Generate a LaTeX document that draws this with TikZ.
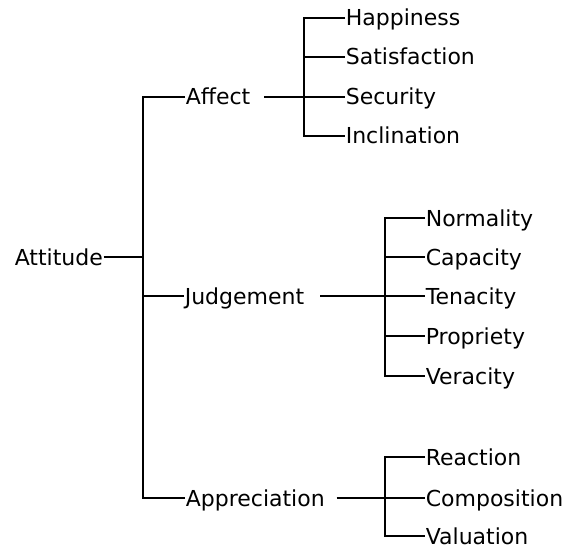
\documentclass[tikz,border=0pt]{standalone}
\usepackage{fontspec}
\setmainfont{DejaVu Sans}
\usepackage{tikz}
\usetikzlibrary{positioning}

\begin{document}
\begin{tikzpicture}[x=1pt, y=-1pt, line width=1.6pt,
lbl/.style={inner sep=0pt, anchor=west, text height=16pt, text depth=0pt, font=\fontsize{22}{26}\selectfont}]
\useasboundingbox (0,0) rectangle (564,548);

% root
\node [lbl] (att) at (14,257) {Attitude};
\coordinate (attj) at (143,257);

% second level
\node [lbl] (aff) at (185,97) {Affect};
\node [lbl] (jud) at (184,296) {Judgement};
\node [lbl] (app) at (185,498) {Appreciation};

\draw (att.east) -- (attj);
\draw (aff.west) -| (attj) |- (app.west);
\draw (attj |- jud.west) -- (jud.west);

% affect
\coordinate (affj) at (304,97);
\node [lbl] (hap) at (345,18) {Happiness};
\node [lbl] (sat) at (345,57) {Satisfaction};
\node [lbl] (sec) at (345,97) {Security};
\node [lbl] (inc) at (345,136) {Inclination};

\draw ([xshift=13pt]aff.east) -- (affj);
\draw (hap.west) -| (affj) |- (inc.west);
\draw (affj |- sat.west) -- (sat.west);
\draw (affj) -- (sec.west);

% judgement
\coordinate (judj) at (385,296);
\node [lbl] (nor) at (425,218) {Normality};
\node [lbl] (cap) at (425,257) {Capacity};
\node [lbl] (ten) at (425,296) {Tenacity};
\node [lbl] (pro) at (425,336) {Propriety};
\node [lbl] (ver) at (425,376) {Veracity};

\draw ([xshift=15pt]jud.east) -- (judj);
\draw (nor.west) -| (judj) |- (ver.west);
\draw (judj |- cap.west) -- (cap.west);
\draw (judj) -- (ten.west);
\draw (judj |- pro.west) -- (pro.west);

% appreciation
\coordinate (appj) at (385,498);
\node [lbl] (rea) at (425,457) {Reaction};
\node [lbl] (com) at (425,498) {Composition};
\node [lbl] (val) at (425,536) {Valuation};

\draw ([xshift=11pt]app.east) -- (appj);
\draw (rea.west) -| (appj) |- (val.west);
\draw (appj) -- (com.west);

\end{tikzpicture}
\end{document}
